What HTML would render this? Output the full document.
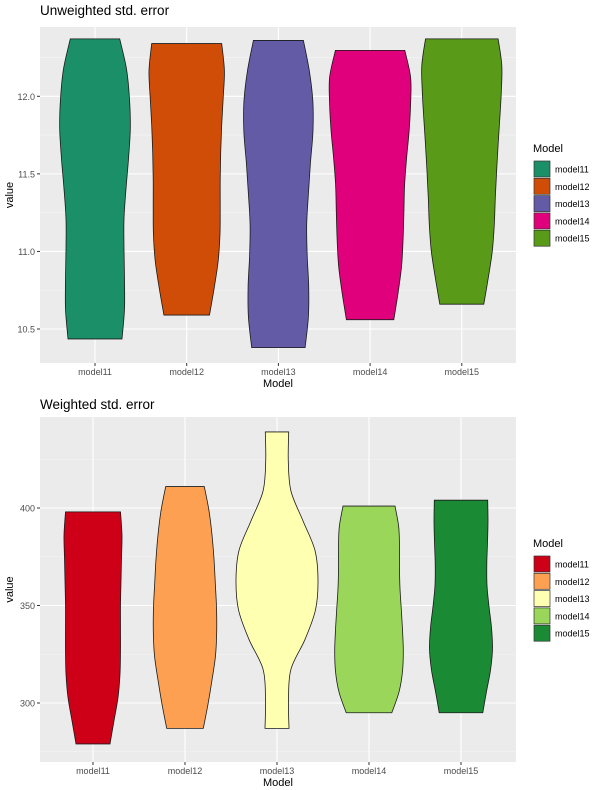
<!DOCTYPE html>
<html><head><meta charset="utf-8"><style>
body{margin:0;background:#fff;font-family:"Liberation Sans",Arial,sans-serif;}
svg{display:block}
</style></head><body>
<svg id="chart" width="600" height="790" xmlns="http://www.w3.org/2000/svg"></svg>
<script>
const categories = ["model11","model12","model13","model14","model15"];
// Top panel: min, max, density width profile (bottom -> top, evenly spaced in value)
const topMin = [10.436,10.59,10.38,10.56,10.66];
const topMax = [12.37,12.34,12.36,12.296,12.37];
const topWidths = [
 [27,29.5,29.5,29,29,31,33.5,35.3,34.5,31.5,24.7],
 [22.8,27.5,31.5,33.3,33.5,33.5,34,35,36.5,37.7,35],
 [26.7,30,30.3,28.8,28.3,30,32,34.5,34.5,31,25],
 [23.7,28,31.5,33,33.8,34.5,36.5,39,40.5,40.5,34.7],
 [22,26.5,30.5,32.5,33.5,34.8,36.3,38,39.5,40,36.3]
];
const topTicks = [10.5,11.0,11.5,12.0];
const topTickLabels = ["10.5","11.0","11.5","12.0"];
// Bottom panel
const botMin = [279,287,287,295,295];
const botMax = [398,411,439,401,404];
const botWidths = [
 [17,21,25,27,27.5,27.5,27.5,28,28.5,29,27.5],
 [18.3,23,27,30.5,31.7,31.5,30.3,29,27,24,19.3],
 [12,11.5,14,28,38.5,41,38,26,14,11.3,11.7],
 [22.8,30,33.5,34.3,33.5,32.3,31,30.5,30.5,29.7,26],
 [21.8,25.5,29.5,31.5,30.5,28,26,25.8,26.5,27,26.7]
];
const botTicks = [300,350,400];
const botTickLabels = ["300","350","400"];

const topColors = ["#1b9068","#d04d08","#635ba6","#e0007b","#599b18"];
const botColors = ["#ce0018","#fda051","#ffffb2","#99d65a","#1a8a35"];

const NS="http://www.w3.org/2000/svg";
const svg=document.getElementById('chart');
function mk(tag,attrs,parent){const e=document.createElementNS(NS,tag);for(const k in attrs)e.setAttribute(k,attrs[k]);(parent||svg).appendChild(e);return e;}

function catmull(pts){
  let d='';
  for(let k=0;k<pts.length-1;k++){
    const p0=pts[Math.max(0,k-1)],p1=pts[k],p2=pts[k+1],p3=pts[Math.min(pts.length-1,k+2)];
    const c1=[p1[0]+(p2[0]-p0[0])/6,p1[1]+(p2[1]-p0[1])/6];
    const c2=[p2[0]-(p3[0]-p1[0])/6,p2[1]-(p3[1]-p1[1])/6];
    d+=` C${c1[0]},${c1[1]} ${c2[0]},${c2[1]} ${p2[0]},${p2[1]}`;
  }
  return d;
}

function panel(o){
  const g=mk('g',{});
  
  
  const L=40,R=516,T=o.top,B=o.bottom;
  const y=v=>o.y0+(v-o.v0)*(o.y1-o.y0)/(o.v1-o.v0);
  const x=i=>o.x0+i*o.dx;
  const bg=mk('rect',{x:L,y:T,width:R-L,height:B-T,fill:'#ebebeb'},g);
  
  
  const step=o.ticks[1]-o.ticks[0];
  for(let v=o.ticks[0]-step*1.5;v<=o.ticks[o.ticks.length-1]+step*1.5;v+=step){
    const yy=y(v); if(yy>T&&yy<B) mk('line',{x1:L,x2:R,y1:yy,y2:yy,stroke:'#f6f6f6','stroke-width':0.6},g);
  }
  o.ticks.forEach((t,i)=>{
    const yy=y(t);
    mk('line',{x1:L,x2:R,y1:yy,y2:yy,stroke:'#fff','stroke-width':1.1},g);
    mk('line',{x1:L-3,x2:L,y1:yy,y2:yy,stroke:'#333','stroke-width':1},g);
    const tx=mk('text',{x:L-5,y:yy+3.5,'text-anchor':'end','font-size':9,fill:'#4d4d4d'},g);
    tx.textContent=o.tickLabels[i];
    
    
  });
  categories.forEach((c,i)=>{
    mk('line',{x1:x(i),x2:x(i),y1:T,y2:B,stroke:'#fff','stroke-width':1.1},g);
    mk('line',{x1:x(i),x2:x(i),y1:B,y2:B+3,stroke:'#333','stroke-width':1},g);
    const tx=mk('text',{x:x(i),y:B+12,'text-anchor':'middle','font-size':9,fill:'#4d4d4d'},g);
    tx.textContent=c;
    
    
  });
  categories.forEach((c,i)=>{
    const w=o.widths[i], n=w.length;
    const right=[], left=[];
    for(let k=0;k<n;k++){
      const v=o.mins[i]+(o.maxs[i]-o.mins[i])*k/(n-1);
      right.push([x(i)+w[k]*o.scale,y(v)]);
      left.push([x(i)-w[k]*o.scale,y(v)]);
    }
    left.reverse();
    let d=`M${left[left.length-1][0]},${left[left.length-1][1]} L${right[0][0]},${right[0][1]}`;
    d+=catmull(right);
    d+=` L${left[0][0]},${left[0][1]}`;
    d+=catmull(left)+' Z';
    const p=mk('path',{d:d,fill:o.colors[i],stroke:'#1a1a1a','stroke-width':0.8},g);
    
    
  });
  const title=mk('text',{x:L,y:T-12+o.titleShift,'font-size':13.5,fill:'#000'},g);
  title.textContent=o.title;
  
  
  const xl=mk('text',{x:(L+R)/2,y:B+24,'text-anchor':'middle','font-size':11,fill:'#000'},g);
  xl.textContent='Model';
  
  
  const yl=mk('text',{x:0,y:0,'text-anchor':'middle','font-size':11,fill:'#000',transform:`translate(13,${(T+B)/2}) rotate(-90)`},g);
  yl.textContent='value';
  
  
  const lg=mk('g',{},g);
  
  
  const lt=mk('text',{x:533,y:o.legTop,'font-size':11,fill:'#000'},lg);
  lt.textContent='Model';
  
  
  categories.forEach((c,i)=>{
    const yy=o.legTop+9+i*17.3;
    const r=mk('rect',{x:534,y:yy,width:16,height:16,fill:o.colors[i],stroke:'#333','stroke-width':0.7},lg);
    
    
    const t=mk('text',{x:555,y:yy+11.5,'font-size':9,fill:'#000'},lg);
    t.textContent=c;
    
    
  });
}
panel({name:'unweighted',title:'Unweighted std. error',top:27,bottom:363,v0:12.0,y0:96.3,v1:10.5,y1:329,x0:95,dx:91.7,scale:1,titleShift:0,
  ticks:topTicks,tickLabels:topTickLabels,mins:topMin,maxs:topMax,widths:topWidths,colors:topColors,legTop:152});
panel({name:'weighted',title:'Weighted std. error',top:417,bottom:762,v0:400,y0:508,v1:300,y1:703,x0:93,dx:92,scale:1,titleShift:4,
  ticks:botTicks,tickLabels:botTickLabels,mins:botMin,maxs:botMax,widths:botWidths,colors:botColors,legTop:547});
</script>
</body></html>
